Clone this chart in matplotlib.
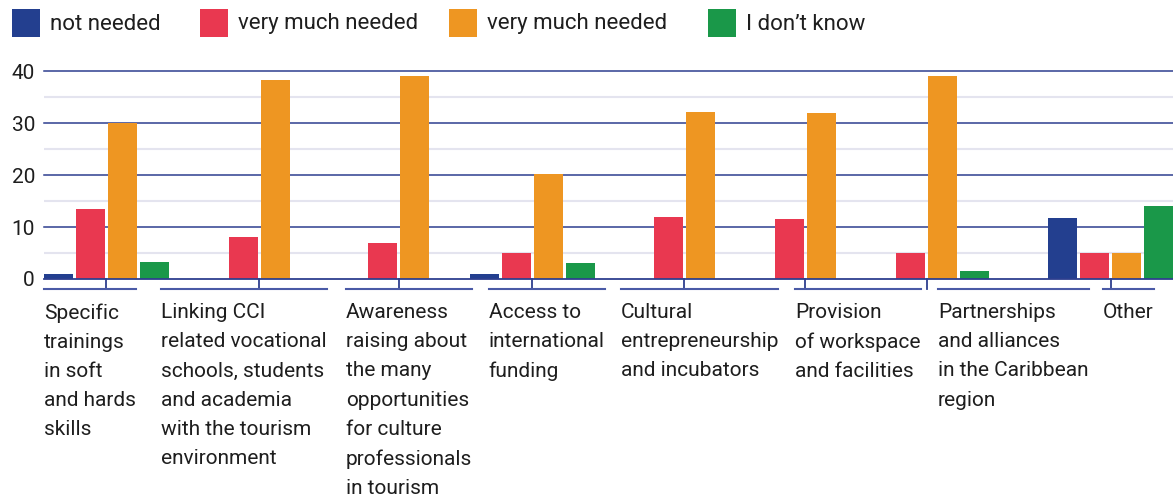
import matplotlib
matplotlib.use("Agg")
import matplotlib.pyplot as plt
import matplotlib.transforms as mtransforms
from matplotlib.patches import Rectangle
from matplotlib.lines import Line2D

plt.rcParams["font.family"] = ["Roboto", "DejaVu Sans"]

# ── Data ─────────────────────────────────────────────────────────
categories = [
    "Specific\ntrainings\nin soft\nand hards\nskills",
    "Linking CCI\nrelated vocational\nschools, students\nand academia\nwith the tourism\nenvironment",
    "Awareness\nraising about\nthe many\nopportunities\nfor culture\nprofessionals\nin tourism",
    "Access to\ninternational\nfunding",
    "Cultural\nentrepreneurship\nand incubators",
    "Provision\nof workspace\nand facilities",
    "Partnerships\nand alliances\nin the Caribbean\nregion",
    "Other",
]
series_names = ["not needed", "very much needed", "very much needed", "I don\u2019t know"]
not_needed = [1, 0, 0, 1, 0, 0, 0, 11.7]
needed = [13.5, 8, 7, 5, 12, 11.5, 5, 5]
very_much_needed = [30, 38.3, 39, 20.2, 32.1, 31.9, 39, 5]
dont_know = [3.3, 0, 0, 3, 0, 0, 1.5, 14]
y_ticks = [0, 10, 20, 30, 40]

# ── Layout (x in bar-slot units) ─────────────────────────────────
W, H = 1173, 500
group_centers = [1.95, 6.73, 11.08, 15.26, 20.01, 23.79, 27.58, 33.34]
label_left = [0, 3.66, 9.44, 13.9, 18.03, 23.47, 27.94, 33.09]
legend_left = [12, 200, 449, 708]   # pixels from the left edge
offsets = [-1.5, -0.5, 0.5, 1.5]
bar_width = 0.9
colors = ["#233f8f", "#e93850", "#ee9622", "#1a9849"]
grid_dark = "#2e3f8f"
grid_light = "#e4e4ef"
text_color = "#1e1e1e"

fig = plt.figure(figsize=(W / 100, H / 100), dpi=100)
ax = fig.add_axes([44 / W, 1 - 279 / H, 1129 / W, 208 / H])
ax.set_xlim(0, 1129 / 32)
ax.set_ylim(0, 40)

for v in [5, 15, 25, 35]:
    ax.axhline(v, color=grid_light, lw=1.5, zorder=0)
for v in [10, 20, 30, 40]:
    ax.axhline(v, color=grid_dark, lw=1.1, zorder=1, clip_on=False)

series = [not_needed, needed, very_much_needed, dont_know]
for vals, off, col in zip(series, offsets, colors):
    xs = [c + off for c in group_centers]
    ax.bar(xs, vals, width=bar_width, color=col, zorder=2)

ax.axhline(0, color=grid_dark, lw=1.3, zorder=3, clip_on=False)

# tick marks hanging under the zero line
tick_drop = -10 / 208
for c in group_centers:
    ax.plot([c, c], [0, tick_drop], color=grid_dark, lw=1.3,
            transform=ax.get_xaxis_transform(), clip_on=False)

for s in ax.spines.values():
    s.set_visible(False)
ax.set_xticks([])
ax.set_yticks(y_ticks)
ax.tick_params(axis="y", length=0, pad=6.5, labelsize=15, labelcolor=text_color)

# category labels, left aligned, with a bracket line above each
trans = mtransforms.blended_transform_factory(ax.transData, fig.transFigure)
texts = []
for x, lab in zip(label_left, categories):
    t = ax.text(x, 1 - 303 / H, lab, transform=trans, ha="left", va="top",
                fontsize=15, color=text_color, linespacing=1.68)
    texts.append(t)

fig.canvas.draw()
renderer = fig.canvas.get_renderer()
for t in texts:
    bb = t.get_window_extent(renderer)
    fig.add_artist(Line2D([bb.x0 / W, bb.x1 / W], [1 - 289 / H, 1 - 289 / H],
                          transform=fig.transFigure, color="#4a5aa6", lw=1.5))

# legend: coloured squares with labels
sq = 28
for x, name, col in zip(legend_left, series_names, colors):
    fig.add_artist(Rectangle((x / W, 1 - 37 / H), sq / W, sq / H,
                             transform=fig.transFigure, facecolor=col,
                             edgecolor="none"))
    fig.text((x + sq + 10) / W, 1 - 24 / H, name, ha="left", va="center",
             fontsize=16, color=text_color)

fig.savefig("out.png", dpi=100)
